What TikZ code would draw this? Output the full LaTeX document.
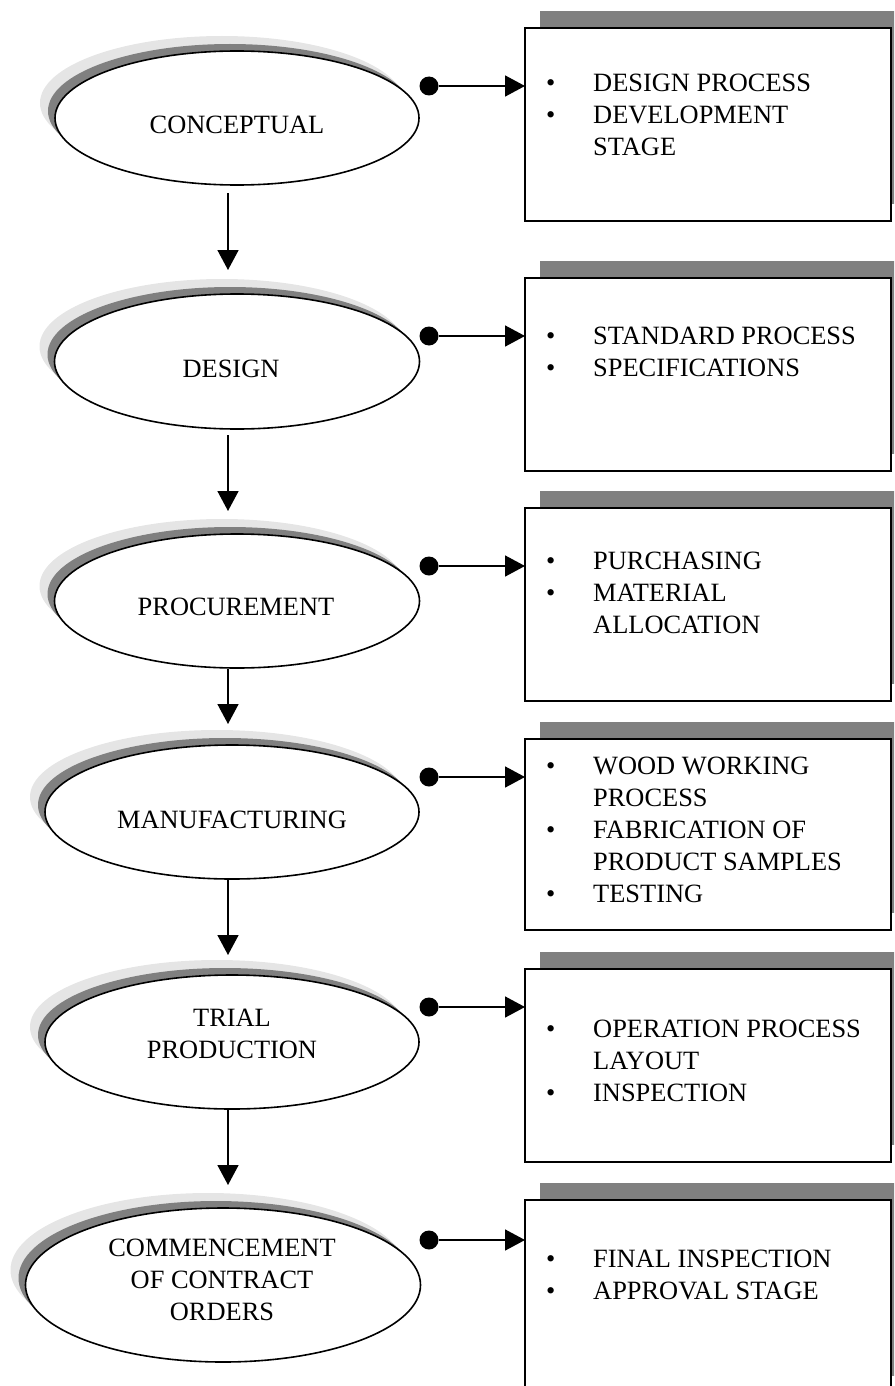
\documentclass[tikz,border=0pt]{standalone}
\usepackage{fontspec}
\setmainfont{Liberation Serif}
\usetikzlibrary{shapes.geometric,shadows,arrows.meta}

\newcommand{\stepfont}{\fontsize{26.4}{32}\selectfont}
\newcommand{\bul}{\makebox[47pt][l]{\textbullet}}
\newcommand{\cont}{\hspace*{47pt}}

\begin{document}
\begin{tikzpicture}[x=1pt, y=-1pt,
	stage/.style={ellipse, draw, line width=1.6pt, fill=white, inner sep=0pt, outer sep=0pt,
		general shadow={fill=black!10, shadow xshift=-15pt, shadow yshift=15pt},
		general shadow={fill=gray, shadow xshift=-7pt, shadow yshift=7pt}},
	stagename/.style={align=center, inner sep=0pt, font=\stepfont},
	detailbox/.style={rectangle, draw, line width=2.2pt, fill=white, inner sep=0pt, outer sep=0pt,
		minimum width=366pt, minimum height=193pt, anchor=north west,
		general shadow={fill=gray, shadow xshift=15pt, shadow yshift=17pt}},
	items/.style={anchor=base west, inner sep=0pt, font=\stepfont},
	startdot/.style={circle, fill=black, inner sep=0pt, minimum size=19pt},
	flow/.style={line width=1.6pt, -{Triangle[length=20pt, width=21pt]}}]

	\useasboundingbox (0,0) rectangle (894,1386);
	\clip (0,0) rectangle (894,1386);

	\coordinate (spine) at (228,0);

	\node[stage, minimum width=364pt, minimum height=134pt] (conceptual) at (237,118) {};
	\node[stagename] (conceptualname) at (237,124.5) {CONCEPTUAL};
	\node[detailbox] (conceptualbox) at (525,28) {};
	\node[items] (conceptuallist) at (546,92) {\begin{tabular}[t]{@{}l@{}}\bul DESIGN PROCESS\\ \bul DEVELOPMENT\\ \cont STAGE\end{tabular}};
	\node[startdot] (conceptualdot) at (429,86) {};
	\draw[flow] (conceptualdot) -- (conceptualdot -| conceptualbox.west);

	\node[stage, minimum width=365pt, minimum height=135pt] (design) at (237,361.5) {};
	\node[stagename] (designname) at (231,368.5) {DESIGN};
	\node[detailbox] (designbox) at (525,278) {};
	\node[items] (designlist) at (546,344) {\begin{tabular}[t]{@{}l@{}}\bul STANDARD PROCESS\\ \bul SPECIFICATIONS\end{tabular}};
	\node[startdot] (designdot) at (429,336) {};
	\draw[flow] (designdot) -- (designdot -| designbox.west);

	\node[stage, minimum width=365pt, minimum height=134pt] (procurement) at (237,601) {};
	\node[stagename] (procurementname) at (236,607) {PROCUREMENT};
	\node[detailbox] (procurementbox) at (525,508) {};
	\node[items] (procurementlist) at (546,569) {\begin{tabular}[t]{@{}l@{}}\bul PURCHASING\\ \bul MATERIAL\\ \cont ALLOCATION\end{tabular}};
	\node[startdot] (procurementdot) at (429,566) {};
	\draw[flow] (procurementdot) -- (procurementdot -| procurementbox.west);

	\node[stage, minimum width=374pt, minimum height=134pt] (manufacturing) at (232,812) {};
	\node[stagename] (manufacturingname) at (232,820) {MANUFACTURING};
	\node[detailbox, minimum height=191pt] (manufacturingbox) at (525,739) {};
	\node[items] (manufacturinglist) at (546,774) {\begin{tabular}[t]{@{}l@{}}\bul WOOD WORKING\\ \cont PROCESS\\ \bul FABRICATION OF\\ \cont PRODUCT SAMPLES\\ \bul TESTING\end{tabular}};
	\node[startdot] (manufacturingdot) at (429,777) {};
	\draw[flow] (manufacturingdot) -- (manufacturingdot -| manufacturingbox.west);

	\node[stage, minimum width=374pt, minimum height=134pt] (trial) at (232,1042) {};
	\node[stagename] (trialname) at (232,1034) {TRIAL\\PRODUCTION};
	\node[detailbox] (trialbox) at (525,969) {};
	\node[items] (triallist) at (546,1037) {\begin{tabular}[t]{@{}l@{}}\bul OPERATION PROCESS\\ \cont LAYOUT\\ \bul INSPECTION\end{tabular}};
	\node[startdot] (trialdot) at (429,1007) {};
	\draw[flow] (trialdot) -- (trialdot -| trialbox.west);

	\node[stage, minimum width=395pt, minimum height=154pt] (contract) at (223,1285) {};
	\node[stagename] (contractname) at (222,1280) {COMMENCEMENT\\OF CONTRACT\\ORDERS};
	\node[detailbox] (contractbox) at (525,1200) {};
	\node[items] (contractlist) at (546,1267) {\begin{tabular}[t]{@{}l@{}}\bul FINAL INSPECTION\\ \bul APPROVAL STAGE\end{tabular}};
	\node[startdot] (contractdot) at (429,1240) {};
	\draw[flow] (contractdot) -- (contractdot -| contractbox.west);

	\draw[flow, shorten <=8pt, shorten >=24pt] (conceptual.south -| spine) -- (design.north -| spine);
	\draw[flow, shorten <=6pt, shorten >=23pt] (design.south -| spine) -- (procurement.north -| spine);
	\draw[flow, shorten <=1pt, shorten >=21pt] (procurement.south -| spine) -- (manufacturing.north -| spine);
	\draw[flow, shorten <=1pt, shorten >=20pt] (manufacturing.south -| spine) -- (trial.north -| spine);
	\draw[flow, shorten <=1pt, shorten >=23pt] (trial.south -| spine) -- (contract.north -| spine);
\end{tikzpicture}
\end{document}
